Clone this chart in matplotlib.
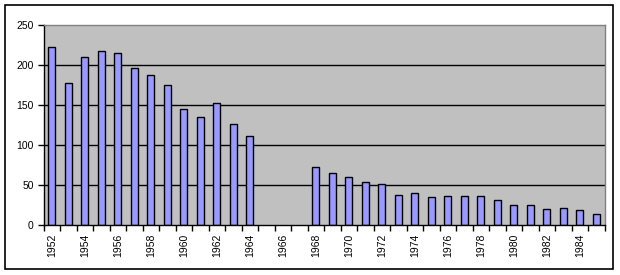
import numpy as np
import matplotlib
matplotlib.use("Agg")
import matplotlib.pyplot as plt
from matplotlib.patches import Rectangle

years = list(range(1952, 1986))
values = [222, 177, 210, 217, 215, 196, 188, 175, 145, 135, 153, 126, 111,
          np.nan, np.nan, np.nan,
          72, 65, 60, 54, 51, 37, 40, 35, 36, 36, 36, 31, 25, 25, 20, 21, 19, 14]
yticks = [0, 50, 100, 150, 200, 250]

plt.rcParams['font.family'] = ['Liberation Sans', 'DejaVu Sans']

W, H = 620, 275
fig = plt.figure(figsize=(W / 100, H / 100), dpi=100)
fig.patch.set_facecolor('white')
# outer border
fig.patches.append(Rectangle((5 / W, 1 - 269 / H), (613 - 5) / W, (269 - 5) / H,
                             transform=fig.transFigure, fill=False,
                             edgecolor='black', linewidth=1.2))

left, right, top, bottom = 43.5, 604.5, 25, 225
ax = fig.add_axes([left / W, 1 - bottom / H, (right - left) / W, (bottom - top) / H])
ax.set_facecolor('#C0C0C0')

x = np.arange(len(years))
ax.bar(x, values, width=0.45, color='#9999FF', edgecolor='black', linewidth=1.0, zorder=3)

ax.set_xlim(-0.5, len(years) - 0.5)
ax.set_ylim(0, 250)
ax.set_yticks(yticks)
ax.set_yticklabels([str(v) for v in yticks], fontsize=7.5)
for v in yticks[1:-1]:
    ax.axhline(v, color='black', linewidth=1.0, zorder=1)

ax.set_xticks(x[::2])
ax.set_xticklabels([str(y) for y in years[::2]], rotation=90, fontsize=7.5)
ax.set_xticks(np.arange(len(years) + 1) - 0.5, minor=True)
ax.tick_params(axis='x', which='major', length=0, pad=6)
ax.tick_params(axis='x', which='minor', length=4, width=1, color='black', direction='out')
ax.tick_params(axis='y', length=4, width=1, color='black', direction='out', pad=3)

ax.spines['left'].set_color('black')
ax.spines['bottom'].set_color('black')
ax.spines['top'].set_color('#808080')
ax.spines['right'].set_color('#808080')
for s in ax.spines.values():
    s.set_linewidth(1.0)
    s.set_zorder(4)

fig.savefig('out.png', dpi=100)
